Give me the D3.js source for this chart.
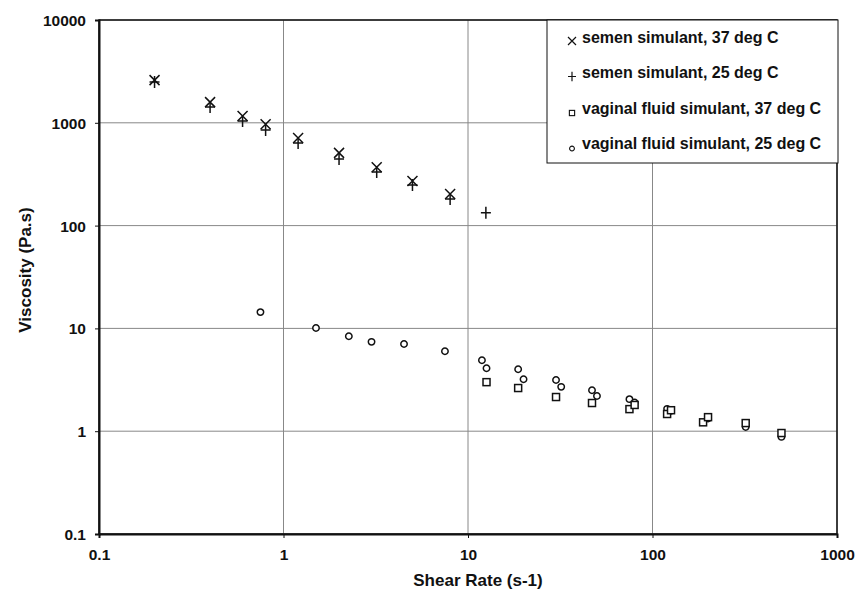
<!DOCTYPE html>
<html>
<head>
<meta charset="utf-8">
<script src="https://cdn.jsdelivr.net/npm/d3@7"></script>
<style>
body { margin: 0; background: #fff; }
text { font-family: Arial, "Liberation Sans", sans-serif; font-weight: bold; fill: #111; }
</style>
</head>
<body>
<svg width="856" height="594"></svg>
<script>
// data
var xTicks = [0.1, 1, 10, 100, 1000];
var yTicks = [0.1, 1, 10, 100, 1000, 10000];

var semen37X = [0.2, 0.4, 0.6, 0.8, 1.2, 2, 3.2, 5, 8];
var semen37Y = [2600, 1590, 1165, 970, 710, 510, 370, 272, 203];

var semen25X = [0.2, 0.4, 0.6, 0.8, 1.2, 2, 3.2, 5, 8, 12.5];
var semen25Y = [2500, 1425, 1040, 850, 636, 444, 332, 248, 181, 133];

var vag37X = [12.6, 18.7, 30, 47, 75, 80, 120, 126, 188, 200, 320, 500];
var vag37Y = [3.0, 2.63, 2.15, 1.88, 1.64, 1.8, 1.47, 1.6, 1.22, 1.37, 1.2, 0.96];

var vag25X = [0.75, 1.5, 2.26, 3.0, 4.5, 7.5, 11.9, 12.6, 18.7, 20, 30, 32, 47, 50, 75, 80, 120, 126, 200, 320, 500];
var vag25Y = [14.4, 10.1, 8.4, 7.4, 7.05, 6.0, 4.9, 4.1, 4.0, 3.2, 3.15, 2.7, 2.5, 2.2, 2.05, 1.9, 1.65, 1.58, 1.33, 1.1, 0.88];

var seriesNames = ["semen simulant, 37 deg C", "semen simulant, 25 deg C",
    "vaginal fluid simulant, 37 deg C", "vaginal fluid simulant, 25 deg C"];

var svg = d3.select("svg"),
    margin = { top: 20, right: 19, bottom: 60, left: 99 },
    width = +svg.attr("width") - margin.left - margin.right,
    height = +svg.attr("height") - margin.top - margin.bottom;

var x = d3.scaleLog().domain([0.1, 1000]).range([0, width]),
    y = d3.scaleLog().domain([0.1, 10000]).range([height, 0]);

var g = svg.append("g")
    .attr("transform", "translate(" + margin.left + "," + margin.top + ")");

// gridlines
g.append("g").selectAll("line").data(xTicks).enter().append("line")
    .attr("x1", function (d) { return x(d); }).attr("x2", function (d) { return x(d); })
    .attr("y1", 0).attr("y2", height)
    .attr("stroke", "#888").attr("stroke-width", 1);
g.append("g").selectAll("line").data(yTicks).enter().append("line")
    .attr("y1", function (d) { return y(d); }).attr("y2", function (d) { return y(d); })
    .attr("x1", 0).attr("x2", width)
    .attr("stroke", "#888").attr("stroke-width", 1);

// frame
g.append("rect").attr("width", width).attr("height", height)
    .attr("fill", "none").attr("stroke", "#111").attr("stroke-width", 1.5);

// axes
var fmt = function (d) { return d3.format("")(d); };
var xAxis = g.append("g")
    .attr("transform", "translate(0," + height + ")")
    .call(d3.axisBottom(x).tickValues(xTicks).tickFormat(fmt).tickSize(4).tickPadding(11));
var yAxis = g.append("g")
    .call(d3.axisLeft(y).tickValues(yTicks).tickFormat(fmt).tickSize(4).tickPadding(9));
[xAxis, yAxis].forEach(function (a) {
    a.select(".domain").attr("stroke", "#111").attr("stroke-width", 2);
    a.selectAll(".tick line").attr("stroke", "#111");
    a.selectAll(".tick text").attr("font-size", 15.5).attr("font-family", "Arial, 'Liberation Sans', sans-serif")
        .attr("font-weight", "bold").attr("fill", "#111");
});
yAxis.selectAll(".tick text").attr("dy", "0.35em");

// axis titles
svg.append("text")
    .attr("x", margin.left + width / 2 + 10).attr("y", 586)
    .attr("text-anchor", "middle").attr("font-size", 17)
    .text("Shear Rate (s-1)");
svg.append("text")
    .attr("transform", "translate(31," + (margin.top + height / 2 - 7) + ") rotate(-90)")
    .attr("text-anchor", "middle").attr("font-size", 17)
    .text("Viscosity (Pa.s)");

// marker shapes
function drawMarker(sel, type) {
    sel.each(function () {
        var s = d3.select(this);
        if (type === "x") {
            s.append("path").attr("d", "M-5,-5L5,5M-5,5L5,-5")
                .attr("stroke", "#111").attr("stroke-width", 1.5).attr("fill", "none");
        } else if (type === "plus") {
            s.append("path").attr("d", "M-5,0L5,0M0,-6L0,6")
                .attr("stroke", "#111").attr("stroke-width", 1.5).attr("fill", "none");
        } else if (type === "square") {
            s.append("rect").attr("x", -3.5).attr("y", -3.5).attr("width", 7).attr("height", 7)
                .attr("stroke", "#111").attr("stroke-width", 1.5).attr("fill", "#fff");
        } else {
            s.append("circle").attr("r", 3.2)
                .attr("stroke", "#111").attr("stroke-width", 1.5).attr("fill", "#fff");
        }
    });
}

function plotSeries(xs, ys, type) {
    var pts = xs.map(function (d, i) { return { x: d, y: ys[i] }; });
    var sel = g.append("g").selectAll("g").data(pts).enter().append("g")
        .attr("transform", function (d) { return "translate(" + x(d.x) + "," + y(d.y) + ")"; });
    drawMarker(sel, type);
}

plotSeries(vag25X, vag25Y, "circle");
plotSeries(vag37X, vag37Y, "square");
plotSeries(semen25X, semen25Y, "plus");
plotSeries(semen37X, semen37Y, "x");

// legend
var types = ["x", "plus", "square", "circle"];
var lg = svg.append("g").attr("transform", "translate(547,20)");
lg.append("rect").attr("width", 291).attr("height", 143)
    .attr("fill", "#fff").attr("stroke", "#111").attr("stroke-width", 1);
var item = lg.selectAll(".item").data(seriesNames).enter().append("g")
    .attr("class", "item")
    .attr("transform", function (d, i) { return "translate(0," + (17 + i * 35.5) + ")"; });
item.each(function (d, i) {
    var m = d3.select(this).append("g")
        .attr("transform", "translate(" + 25 + "," + (i < 2 ? 4 : 5) + ") scale(" + (i < 2 ? 0.8 : 0.75) + ")");
    drawMarker(m, types[i]);
});
item.append("text").attr("x", 35).attr("dy", "0.35em")
    .attr("font-size", 16).text(function (d) { return d; });
</script>
</body>
</html>
